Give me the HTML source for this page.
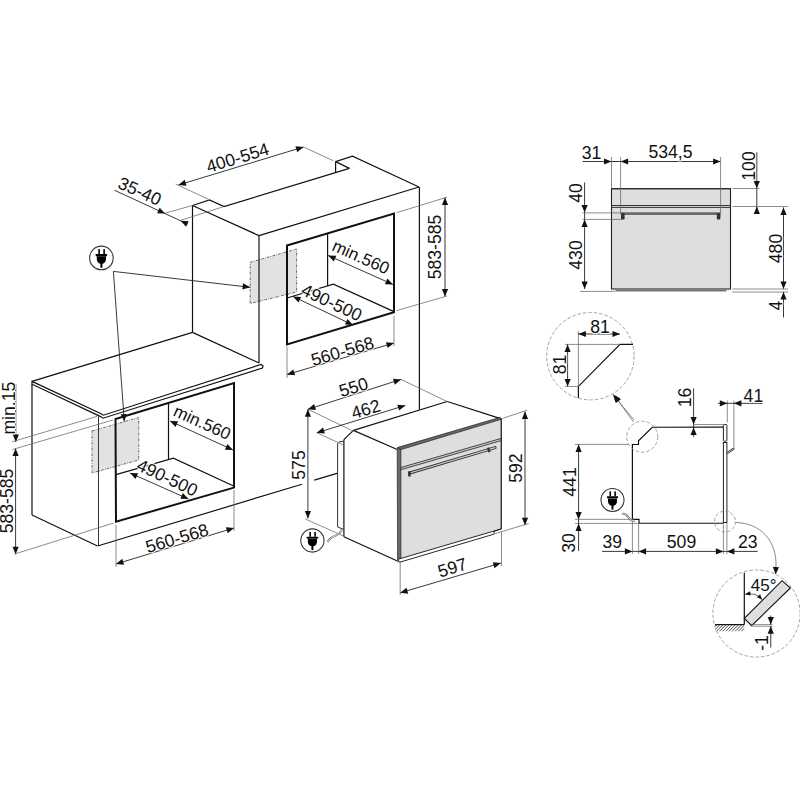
<!DOCTYPE html>
<html><head><meta charset="utf-8"><style>
html,body{margin:0;padding:0;background:#fff;}
svg{display:block;}
text{font-family:"Liberation Sans",sans-serif;fill:#111;text-anchor:middle;stroke:#fff;stroke-width:2px;paint-order:stroke;stroke-linejoin:round;}
.k{stroke:#111;stroke-width:1.2;fill:none;}
.b{stroke:#111;stroke-width:2;fill:none;}
.m{stroke:#333;stroke-width:1;fill:none;}
.d{stroke:#222;stroke-width:0.9;fill:none;}
.t{stroke:#666;stroke-width:0.75;fill:none;}
.dash{stroke:#555;stroke-width:0.9;stroke-dasharray:2.6 1.2 0.8 1.2;}
.dc{stroke:#999;stroke-width:0.9;stroke-dasharray:3.5 2;fill:none;}
.ah{fill:#111;}
</style></head><body>
<svg width="800" height="800" viewBox="0 0 800 800">
<defs><pattern id="hatch" width="2.2" height="2.2" patternUnits="userSpaceOnUse" patternTransform="rotate(45)"><rect width="2.2" height="2.2" fill="#fff"/><line x1="0" y1="0" x2="0" y2="2.2" stroke="#222" stroke-width="1.15"/></pattern></defs>
<polygon points="250.2,262.3 296.6,249 296.6,292 250.2,303.5" class="dash" fill="#e2e2e2"/>
<polygon points="92,431 138.75,417.5 138.75,460 92,473" class="dash" fill="#e2e2e2"/>
<polyline points="192.5,205.5 209.5,200 224,206.5 349.4,168.4" class="k"/>
<line x1="192.5" y1="205.5" x2="192.5" y2="332.4" class="k"/>
<line x1="192.5" y1="205.5" x2="259" y2="235.6" class="k"/>
<line x1="259" y1="235.6" x2="259" y2="363" class="k"/>
<line x1="259" y1="235.6" x2="419" y2="187" class="k"/>
<line x1="419.4" y1="187" x2="419.4" y2="409.5" class="k"/>
<line x1="335.6" y1="161.6" x2="335.6" y2="172.2" class="k"/>
<line x1="335.6" y1="161.6" x2="349.4" y2="168.4" class="k"/>
<polyline points="335.6,161.6 352.5,156.25 419,187" class="k"/>
<line x1="192.5" y1="332.4" x2="259" y2="363" class="k"/>
<polygon points="287,245.5 394,213.5 394,312.3 287,344.5" class="b"/>
<line x1="327.6" y1="233.4" x2="327.6" y2="286" class="k"/>
<polyline points="287,298 333.4,284.25 394,311.6" class="k"/>
<line x1="328.2" y1="255.5" x2="393" y2="284.5" class="d"/>
<polygon points="328.20,255.50 336.31,255.73 333.78,261.39" class="ah"/>
<polygon points="393.00,284.50 384.89,284.27 387.42,278.61" class="ah"/>
<text transform="translate(361,256.8) rotate(24)" y="6.09" font-size="17">min.560</text>
<line x1="293" y1="296.5" x2="353" y2="325" class="d"/>
<polygon points="293.00,296.50 301.10,296.92 298.44,302.52" class="ah"/>
<polygon points="353.00,325.00 344.90,324.58 347.56,318.98" class="ah"/>
<text transform="translate(331.8,302.2) rotate(25)" y="6.30" font-size="17.6">490-500</text>
<line x1="287" y1="374.5" x2="394" y2="343" class="d"/>
<polygon points="287.00,374.50 293.32,369.41 295.07,375.36" class="ah"/>
<polygon points="394.00,343.00 387.68,348.09 385.93,342.14" class="ah"/>
<text transform="translate(342.4,351) rotate(-16.5)" y="6.30" font-size="17.6">560-568</text>
<line x1="287" y1="346.5" x2="287" y2="378" class="t"/>
<line x1="394" y1="316" x2="394" y2="346" class="t"/>
<line x1="445" y1="197.5" x2="445" y2="296.5" class="d"/>
<polygon points="445.00,197.50 448.10,205.00 441.90,205.00" class="ah"/>
<polygon points="445.00,296.50 441.90,289.00 448.10,289.00" class="ah"/>
<text transform="translate(434.5,247) rotate(-90)" y="6.30" font-size="17.6">583-585</text>
<line x1="396.5" y1="212.7" x2="447" y2="197.2" class="t"/>
<line x1="396.5" y1="310.6" x2="447" y2="296" class="t"/>
<line x1="178.4" y1="185" x2="303.5" y2="147" class="d"/>
<polygon points="178.40,185.00 184.68,179.85 186.48,185.79" class="ah"/>
<polygon points="303.50,147.00 297.22,152.15 295.42,146.21" class="ah"/>
<text transform="translate(237.5,157.5) rotate(-16.9)" y="6.30" font-size="17.6">400-554</text>
<line x1="175.5" y1="184" x2="208" y2="199" class="t"/>
<line x1="303.5" y1="147" x2="333" y2="160.6" class="t"/>
<line x1="114.5" y1="190.25" x2="187.6" y2="224" class="d"/>
<polygon points="165.20,213.60 157.09,213.29 159.67,207.66" class="ah"/>
<polygon points="180.60,220.80 188.71,221.18 186.08,226.79" class="ah"/>
<text transform="translate(139.9,191) rotate(24)" y="6.30" font-size="17.6">35-40</text>
<line x1="165.2" y1="213.1" x2="192.5" y2="205.5" class="t"/>
<line x1="180.5" y1="220.4" x2="222.5" y2="207" class="t"/>
<line x1="32" y1="381.4" x2="192.5" y2="332.4" class="k"/>
<polygon points="32,381.4 100.6,413.4 103.3,415.2 261,364.4 263,366 262.5,368 103,418.2 100.6,416.6 32,384.2" class="k"/>
<line x1="32" y1="384" x2="32" y2="515" class="k"/>
<line x1="32" y1="515" x2="97.5" y2="546" class="k"/>
<line x1="98.5" y1="416.6" x2="98.5" y2="546" class="m"/>
<line x1="97.5" y1="546" x2="302" y2="484.25" class="k"/>
<line x1="314.25" y1="480.2" x2="337.8" y2="473.2" class="k"/>
<polygon points="115.5,419 234,383 234,487.6 116,521.7" class="b"/>
<line x1="168.5" y1="402.8" x2="168.5" y2="459.6" class="k"/>
<polyline points="116,474.6 173.4,458.25 233.6,486" class="k"/>
<line x1="170" y1="421" x2="233" y2="450" class="d"/>
<polygon points="170.00,421.00 178.11,421.32 175.52,426.95" class="ah"/>
<polygon points="233.00,450.00 224.89,449.68 227.48,444.05" class="ah"/>
<text transform="translate(202.3,422.2) rotate(24.5)" y="6.09" font-size="17">min.560</text>
<line x1="130" y1="473" x2="188.5" y2="499" class="d"/>
<polygon points="130.00,473.00 138.11,473.21 135.59,478.88" class="ah"/>
<polygon points="188.50,499.00 180.39,498.79 182.91,493.12" class="ah"/>
<text transform="translate(167.4,477.4) rotate(25)" y="6.30" font-size="17.6">490-500</text>
<line x1="116" y1="564" x2="234" y2="528" class="d"/>
<polygon points="116.00,564.00 122.27,558.85 124.08,564.78" class="ah"/>
<polygon points="234.00,528.00 227.73,533.15 225.92,527.22" class="ah"/>
<text transform="translate(177,538) rotate(-16.5)" y="6.30" font-size="17.6">560-568</text>
<line x1="116" y1="525" x2="116" y2="567" class="t"/>
<line x1="234" y1="490" x2="234" y2="531" class="t"/>
<line x1="15.8" y1="384.2" x2="15.8" y2="442" class="d"/>
<polygon points="15.80,442.00 12.70,434.50 18.90,434.50" class="ah"/>
<text transform="translate(8.6,408.2) rotate(-90)" y="6.30" font-size="17.6">min.15</text>
<line x1="15.6" y1="448.6" x2="15.6" y2="554.2" class="d"/>
<polygon points="15.60,448.60 18.70,456.10 12.50,456.10" class="ah"/>
<polygon points="15.60,554.20 12.50,546.70 18.70,546.70" class="ah"/>
<text transform="translate(6.6,501) rotate(-90)" y="6.30" font-size="17.6">583-585</text>
<line x1="12.25" y1="441.75" x2="97" y2="416.4" class="t"/>
<line x1="12.25" y1="449.6" x2="113" y2="420" class="t"/>
<line x1="14.6" y1="554" x2="113.7" y2="523" class="t"/>
<g transform="translate(101.4,257.9) scale(1.000)"><circle cx="0" cy="0" r="11.8" fill="#fff" stroke="#333" stroke-width="1.1"/><rect x="-3.1" y="-8.8" width="1.6" height="5" fill="#000"/><rect x="1.9" y="-8.8" width="1.6" height="5" fill="#000"/><rect x="-5.7" y="-3.9" width="11.4" height="2.2" rx="0.5" fill="#000"/><path d="M-4.6,-1.6 H4.6 V1.2 Q4.6,4.6 1.4,5.9 H-1.4 Q-4.6,4.6 -4.6,1.2 Z" fill="#000"/><rect x="-1" y="5" width="2" height="4.8" fill="#000"/></g>
<line x1="113.4" y1="271.4" x2="250.2" y2="287.3" class="d"/>
<polygon points="250.20,287.30 242.39,289.51 243.11,283.35" class="ah"/>
<line x1="113.4" y1="271.4" x2="124.3" y2="421.6" class="d"/>
<polygon points="124.30,421.60 120.67,414.34 126.85,413.90" class="ah"/>
<polygon points="397.2,448.75 501.25,418.3 501.25,528.9 398,559.25" fill="#dedede"/>
<line x1="343.9" y1="439.6" x2="343.9" y2="536.75" class="k"/>
<line x1="343.9" y1="439.6" x2="353.4" y2="430.4" class="k"/>
<line x1="353.4" y1="430.4" x2="447.2" y2="401.5" class="k"/>
<line x1="353.4" y1="430.4" x2="397.2" y2="449.5" class="k"/>
<line x1="447.2" y1="401.5" x2="500.6" y2="418.6" class="k"/>
<line x1="343.9" y1="536.75" x2="398.5" y2="561.5" class="k"/>
<polyline points="337.6,443.4 339.5,441.8 343.9,441.2" class="m"/>
<line x1="337.6" y1="443.4" x2="337.6" y2="527" class="m"/>
<line x1="337.6" y1="527" x2="343.5" y2="529.25" class="m"/>
<polygon points="397.2,448.75 400.9,448 400.9,559 397.6,559.5" fill="#6a6a6a" stroke="#222" stroke-width="0.7"/>
<polygon points="397.2,447.6 500.2,417.3 501.25,419.3 400.9,449.6" fill="#666" stroke="#222" stroke-width="0.7"/>
<line x1="501.25" y1="418.6" x2="501.25" y2="528.9" class="k"/>
<polygon points="398,559.25 501.25,528.9 494,531.3 494.1,534.1 399.5,562.3" fill="#fff" stroke="#111" stroke-width="0.9" stroke-linejoin="miter"/>
<polygon points="400.9,467.5 500.8,438.5 500.8,440.7 400.9,469.7" fill="#c8c8c8" stroke="#222" stroke-width="0.8"/>
<line x1="409.8" y1="473" x2="495.1" y2="447.6" stroke="#333" stroke-width="3" stroke-linecap="round"/>
<line x1="409.8" y1="473" x2="495.1" y2="447.6" stroke="#cfcfcf" stroke-width="1.1" stroke-linecap="round"/>
<rect x="408.1" y="471.3" width="2.6" height="5.2" fill="#333"/>
<rect x="487.6" y="447.5" width="2.4" height="4.8" fill="#333" transform="rotate(-17 488.8 450)"/>
<line x1="307.9" y1="409.3" x2="307.9" y2="518.4" class="d"/>
<polygon points="307.90,409.30 311.00,416.80 304.80,416.80" class="ah"/>
<polygon points="307.90,518.40 304.80,510.90 311.00,510.90" class="ah"/>
<text transform="translate(299,465) rotate(-90)" y="6.30" font-size="17.6">575</text>
<line x1="307.9" y1="409.3" x2="351.75" y2="430.4" class="t"/>
<line x1="305.25" y1="519" x2="343.5" y2="536" class="t"/>
<line x1="307.9" y1="409.3" x2="401" y2="379.4" class="d"/>
<polygon points="307.90,409.30 314.09,404.06 315.99,409.96" class="ah"/>
<polygon points="401.00,379.40 394.81,384.64 392.91,378.74" class="ah"/>
<text transform="translate(353.4,387) rotate(-17)" y="6.30" font-size="17.6">550</text>
<line x1="401" y1="379.4" x2="447" y2="401.5" class="t"/>
<line x1="316.8" y1="432.8" x2="405.4" y2="405.4" class="d"/>
<polygon points="316.80,432.80 323.05,427.62 324.88,433.55" class="ah"/>
<polygon points="405.40,405.40 399.15,410.58 397.32,404.65" class="ah"/>
<text transform="translate(365.6,409) rotate(-17)" y="6.30" font-size="17.6">462</text>
<line x1="316.8" y1="432.8" x2="343.6" y2="445" class="t"/>
<line x1="525" y1="411.6" x2="525" y2="525.2" class="d"/>
<polygon points="525.00,411.60 528.10,419.10 521.90,419.10" class="ah"/>
<polygon points="525.00,525.20 521.90,517.70 528.10,517.70" class="ah"/>
<text transform="translate(515.6,468.2) rotate(-90)" y="6.30" font-size="17.6">592</text>
<line x1="502.5" y1="418.4" x2="527" y2="410.3" class="t"/>
<line x1="494.75" y1="533.7" x2="528.75" y2="523.5" class="t"/>
<line x1="400.2" y1="592.8" x2="500.8" y2="563.1" class="d"/>
<polygon points="400.20,592.80 406.52,587.70 408.27,593.65" class="ah"/>
<polygon points="500.80,563.10 494.48,568.20 492.73,562.25" class="ah"/>
<text transform="translate(452.3,567.4) rotate(-17)" y="6.30" font-size="17.6">597</text>
<line x1="400.2" y1="561" x2="400.2" y2="595" class="t"/>
<line x1="501.5" y1="532" x2="501.5" y2="566" class="t"/>
<g transform="translate(312.4,540.5) scale(0.983)"><circle cx="0" cy="0" r="11.8" fill="#fff" stroke="#333" stroke-width="1.1"/><rect x="-3.1" y="-8.8" width="1.6" height="5" fill="#000"/><rect x="1.9" y="-8.8" width="1.6" height="5" fill="#000"/><rect x="-5.7" y="-3.9" width="11.4" height="2.2" rx="0.5" fill="#000"/><path d="M-4.6,-1.6 H4.6 V1.2 Q4.6,4.6 1.4,5.9 H-1.4 Q-4.6,4.6 -4.6,1.2 Z" fill="#000"/><rect x="-1" y="5" width="2" height="4.8" fill="#000"/></g>
<path d="M327.75,542.2 C328.8,539.5 331,537.6 334,536.4 C337.6,535 340.8,533.4 342,529.3" fill="none" stroke="#666" stroke-width="2"/>
<path d="M327.75,542.2 C328.8,539.5 331,537.6 334,536.4 C337.6,535 340.8,533.4 342,529.3" fill="none" stroke="#fff" stroke-width="0.8"/>
<rect x="611.5" y="188.6" width="119" height="100.4" fill="#dedede" stroke="#222" stroke-width="1.1"/>
<line x1="611.5" y1="188.9" x2="730.5" y2="188.9" class="m"/>
<line x1="611.5" y1="205.5" x2="730.5" y2="205.5" class="m"/>
<line x1="611.5" y1="207.4" x2="730.5" y2="207.4" class="m"/>
<line x1="615.5" y1="290.8" x2="726.5" y2="290.8" class="m"/>
<rect x="620.6" y="212.3" width="100" height="2.6" fill="#666"/>
<rect x="621" y="213" width="3.6" height="6.4" rx="1" fill="#333"/>
<rect x="716.8" y="213" width="3.6" height="6.4" rx="1" fill="#333"/>
<line x1="582.5" y1="161.5" x2="720.5" y2="161.5" class="d"/>
<polygon points="611.50,161.50 604.00,164.60 604.00,158.40" class="ah"/>
<polygon points="620.60,161.50 628.10,158.40 628.10,164.60" class="ah"/>
<polygon points="720.60,161.50 713.10,164.60 713.10,158.40" class="ah"/>
<line x1="611.5" y1="157" x2="611.5" y2="188.5" class="t"/>
<line x1="620.6" y1="157" x2="620.6" y2="213" class="t"/>
<line x1="720.6" y1="157" x2="720.6" y2="213" class="t"/>
<text transform="translate(591.5,153) rotate(0)" y="6.30" font-size="17.6">31</text>
<text transform="translate(670.4,151.8) rotate(0)" y="6.30" font-size="17.6">534,5</text>
<line x1="756.8" y1="152.4" x2="756.8" y2="212" class="d"/>
<polygon points="756.80,188.50 753.70,181.00 759.90,181.00" class="ah"/>
<polygon points="756.80,206.50 759.90,214.00 753.70,214.00" class="ah"/>
<text transform="translate(749,166) rotate(-90)" y="6.30" font-size="17.6">100</text>
<line x1="732.5" y1="188.5" x2="759.5" y2="188.5" class="t"/>
<line x1="732.5" y1="206.5" x2="788" y2="206.5" class="t"/>
<line x1="783.5" y1="207.4" x2="783.5" y2="289" class="d"/>
<polygon points="783.50,207.40 786.60,214.90 780.40,214.90" class="ah"/>
<polygon points="783.50,289.00 780.40,281.50 786.60,281.50" class="ah"/>
<text transform="translate(776,248.5) rotate(-90)" y="6.30" font-size="17.6">480</text>
<line x1="732.5" y1="289" x2="788" y2="289" class="t"/>
<line x1="732.5" y1="292" x2="788" y2="292" class="t"/>
<line x1="783.5" y1="292" x2="783.5" y2="317.5" class="d"/>
<polygon points="783.50,292.00 786.60,299.50 780.40,299.50" class="ah"/>
<text transform="translate(775.5,305.5) rotate(-90)" y="6.30" font-size="17.6">4</text>
<line x1="584.6" y1="182.5" x2="584.6" y2="289" class="d"/>
<polygon points="584.60,212.50 581.50,205.00 587.70,205.00" class="ah"/>
<text transform="translate(575.5,193) rotate(-90)" y="6.30" font-size="17.6">40</text>
<line x1="582.5" y1="212.9" x2="621" y2="212.9" class="t"/>
<line x1="582.5" y1="219.4" x2="622.5" y2="219.4" class="t"/>
<polygon points="584.60,219.40 587.70,226.90 581.50,226.90" class="ah"/>
<polygon points="584.60,289.00 581.50,281.50 587.70,281.50" class="ah"/>
<text transform="translate(575.5,255) rotate(-90)" y="6.30" font-size="17.6">430</text>
<line x1="580" y1="291.4" x2="615" y2="291.4" class="t"/>
<circle cx="590.4" cy="356.2" r="43.7" class="dc"/>
<polyline points="578.4,398 578.4,386.4 620,344.4 633,344.4" class="k"/>
<line x1="565" y1="344.4" x2="620" y2="344.4" class="t"/>
<line x1="578.4" y1="331" x2="578.4" y2="386.4" class="t"/>
<line x1="565" y1="386.4" x2="578.4" y2="386.4" class="t"/>
<line x1="578.4" y1="334" x2="620" y2="334" class="d"/>
<polygon points="578.40,334.00 585.90,330.90 585.90,337.10" class="ah"/>
<polygon points="620.00,334.00 612.50,337.10 612.50,330.90" class="ah"/>
<text transform="translate(600,326.5) rotate(0)" y="6.30" font-size="17.6">81</text>
<line x1="567.6" y1="344.4" x2="567.6" y2="386.4" class="d"/>
<polygon points="567.60,344.40 570.70,351.90 564.50,351.90" class="ah"/>
<polygon points="567.60,386.40 564.50,378.90 570.70,378.90" class="ah"/>
<text transform="translate(560,364.4) rotate(-90)" y="6.30" font-size="17.6">81</text>
<line x1="634" y1="420" x2="613" y2="394.5" class="t"/>
<polygon points="613.00,394.50 620.16,398.32 615.37,402.26" class="ah"/>
<polyline points="723,427.2 652.25,427.25 638.5,440.75 638.5,444.5 632.4,444.5 632.4,519.35 639,519.35 639,523.25 723.4,523.25" class="k"/>
<rect x="723.4" y="424.55" width="3.5" height="16.6" rx="0.8" fill="#fff" stroke="#222" stroke-width="1"/>
<rect x="723.4" y="442.5" width="3.5" height="80" fill="#fff" stroke="#222" stroke-width="1"/>
<line x1="727.8" y1="452.6" x2="733.2" y2="449" stroke="#333" stroke-width="2.2" stroke-linecap="round"/>
<line x1="727.8" y1="452.6" x2="733.2" y2="449" stroke="#fff" stroke-width="0.7" stroke-linecap="round"/>
<line x1="733.9" y1="400.5" x2="733.9" y2="449.5" class="t"/>
<line x1="727.3" y1="400.5" x2="727.3" y2="422.4" class="t"/>
<line x1="718.1" y1="403.3" x2="762.7" y2="403.3" class="d"/>
<polygon points="727.30,403.30 719.80,406.40 719.80,400.20" class="ah"/>
<polygon points="733.90,403.30 741.40,400.20 741.40,406.40" class="ah"/>
<text transform="translate(753.4,396) rotate(0)" y="6.30" font-size="17.6">41</text>
<line x1="693.6" y1="388.4" x2="693.6" y2="436.75" class="d"/>
<polygon points="693.60,424.40 690.50,416.90 696.70,416.90" class="ah"/>
<polygon points="693.60,427.40 696.70,434.90 690.50,434.90" class="ah"/>
<text transform="translate(684.8,397.5) rotate(-90)" y="6.30" font-size="17.6">16</text>
<line x1="693.6" y1="424.55" x2="723.4" y2="424.55" class="t"/>
<line x1="578.6" y1="444.5" x2="578.6" y2="551" class="d"/>
<polygon points="578.60,444.50 581.70,452.00 575.50,452.00" class="ah"/>
<polygon points="578.60,519.50 575.50,512.00 581.70,512.00" class="ah"/>
<text transform="translate(569.5,482) rotate(-90)" y="6.30" font-size="17.6">441</text>
<line x1="575" y1="444.4" x2="628.5" y2="444.4" class="t"/>
<line x1="575" y1="519.35" x2="632.4" y2="519.35" class="t"/>
<line x1="575" y1="523.4" x2="639" y2="523.4" class="t"/>
<polygon points="578.60,523.40 581.70,530.90 575.50,530.90" class="ah"/>
<text transform="translate(569,543) rotate(-90)" y="6.30" font-size="17.6">30</text>
<line x1="602" y1="551.4" x2="757.6" y2="551.4" class="d"/>
<polygon points="632.40,551.40 624.90,554.50 624.90,548.30" class="ah"/>
<polygon points="638.60,551.40 646.10,548.30 646.10,554.50" class="ah"/>
<polygon points="723.40,551.40 715.90,554.50 715.90,548.30" class="ah"/>
<polygon points="726.90,551.40 734.40,548.30 734.40,554.50" class="ah"/>
<line x1="632.4" y1="519" x2="632.4" y2="554" class="t"/>
<line x1="638.6" y1="523.5" x2="638.6" y2="554" class="t"/>
<line x1="723.4" y1="523" x2="723.4" y2="554" class="t"/>
<line x1="726.9" y1="523" x2="726.9" y2="554" class="t"/>
<text transform="translate(612.3,541.8) rotate(0)" y="6.30" font-size="17.6">39</text>
<text transform="translate(681.5,541.8) rotate(0)" y="6.30" font-size="17.6">509</text>
<text transform="translate(747.75,541.8) rotate(0)" y="6.30" font-size="17.6">23</text>
<circle cx="642.25" cy="436.75" r="15.5" class="dc"/>
<circle cx="725" cy="521.5" r="10.5" class="dc"/>
<line x1="633.5" y1="422" x2="614" y2="395" class="t"/>
<polygon points="614.00,395.00 620.90,399.27 615.88,402.90" class="ah"/>
<g transform="translate(612.5,500) scale(0.975)"><circle cx="0" cy="0" r="11.8" fill="#fff" stroke="#333" stroke-width="1.1"/><rect x="-3.1" y="-8.8" width="1.6" height="5" fill="#000"/><rect x="1.9" y="-8.8" width="1.6" height="5" fill="#000"/><rect x="-5.7" y="-3.9" width="11.4" height="2.2" rx="0.5" fill="#000"/><path d="M-4.6,-1.6 H4.6 V1.2 Q4.6,4.6 1.4,5.9 H-1.4 Q-4.6,4.6 -4.6,1.2 Z" fill="#000"/><rect x="-1" y="5" width="2" height="4.8" fill="#000"/></g>
<path d="M622,513.9 C625,513.5 627,515 628.5,517.5 C630,520 632,521.5 635,520.5" fill="none" stroke="#666" stroke-width="2"/>
<path d="M622,513.9 C625,513.5 627,515 628.5,517.5 C630,520 632,521.5 635,520.5" fill="none" stroke="#fff" stroke-width="0.8"/>
<path d="M735.5,522.5 C760,523 777,540 776,567" fill="none" class="t"/>
<polygon points="775.60,574.50 772.86,566.86 779.05,567.15" class="ah"/>
<circle cx="756.5" cy="613.5" r="43.6" class="dc"/>
<rect x="715" y="624.6" width="29.3" height="6.7" fill="url(#hatch)"/>
<line x1="744.3" y1="572.8" x2="744.3" y2="624.6" class="k"/>
<line x1="715" y1="624.6" x2="744.3" y2="624.6" class="k"/>
<polygon points="744.3,618.4 782,580.7 790.4,588 751.6,625.7" fill="#dedede" stroke="#111" stroke-width="1.1"/>
<line x1="751.6" y1="624.6" x2="772.4" y2="624.6" class="t"/>
<line x1="752.5" y1="626.25" x2="772.4" y2="626.25" class="t"/>
<path d="M745.5,594.2 Q756,592 762.3,599.8" fill="none" stroke="#444" stroke-width="0.8"/>
<polygon points="744.90,594.20 750.04,591.25 750.65,595.61" class="ah"/>
<polygon points="762.30,599.80 756.90,597.36 760.08,594.31" class="ah"/>
<text transform="translate(763.7,584.6) rotate(0)" y="6.09" font-size="17">45°</text>
<line x1="770.75" y1="615.6" x2="770.75" y2="624.6" class="d"/>
<polygon points="770.75,624.60 767.65,617.10 773.85,617.10" class="ah"/>
<line x1="770.75" y1="626.25" x2="770.75" y2="647.6" class="d"/>
<polygon points="770.75,626.25 773.85,633.75 767.65,633.75" class="ah"/>
<text transform="translate(761.2,643) rotate(-90)" y="6.30" font-size="17.6">-1</text>
</svg></body></html>
